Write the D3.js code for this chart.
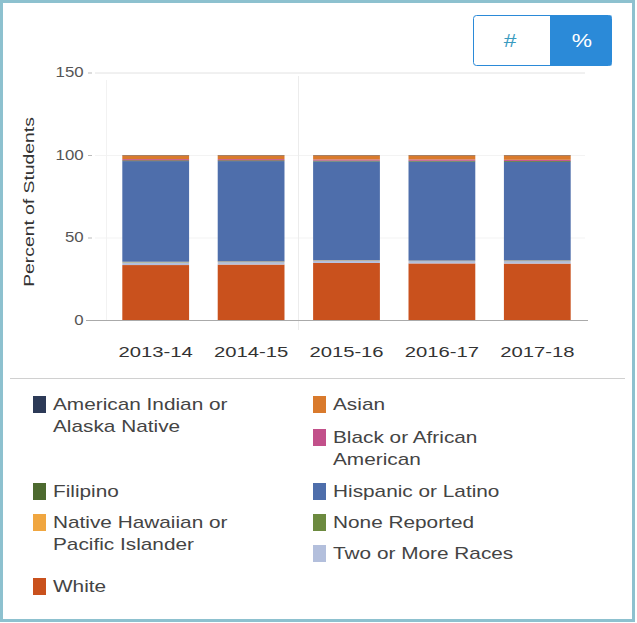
<!DOCTYPE html>
<html>
<head>
<meta charset="utf-8">
<script src="https://cdn.jsdelivr.net/npm/d3@7"></script>
<style>
  body { margin: 0; background: #fff; font-family: "Liberation Sans", Arial, sans-serif; }
</style>
</head>
<body>
<div id="chart"></div>
<script>
// years on the x axis
var years = ["2013-14", "2014-15", "2015-16", "2016-17", "2017-18"];

// groups, top of the stack first (same order as the legend)
var groups = ["American Indian or Alaska Native", "Asian", "Black or African American", "Filipino",
              "Hispanic or Latino", "Native Hawaiian or Pacific Islander", "None Reported",
              "Two or More Races", "White"];
var groupColors = ["#2c3a57", "#d97a2c", "#c2508a", "#4d6a2f", "#4e6eab", "#f0a640", "#6c8a3f", "#b3bfdc", "#c9511d"];

// percent of students per year, one array per group
var amIndian  = [0.2, 0.2, 0.2, 0.2, 0.2];
var asian     = [2.3, 2.3, 2.5, 2.5, 2.7];
var black     = [0.7, 0.7, 0.7, 0.8, 0.7];
var filipino  = [0.5, 0.5, 0.5, 0.5, 0.5];
var hispanic  = [61.0, 60.8, 59.9, 60.0, 59.8];
var hawaiian  = [0.2, 0.2, 0.2, 0.2, 0.2];
var noneRep   = [0.2, 0.2, 0.1, 0.1, 0.2];
var twoOrMore = [1.6, 1.5, 1.3, 1.4, 1.5];
var white     = [33.3, 33.6, 34.6, 34.3, 34.2];

var yTicks = [0, 50, 100, 150];

var seriesValues = [amIndian, asian, black, filipino, hispanic, hawaiian, noneRep, twoOrMore, white];

var width = 637, height = 623;
var font = "'Liberation Sans', Arial, sans-serif";
var svg = d3.select("#chart").append("svg").attr("width", width).attr("height", height);

// outer frame
svg.append("rect").attr("x", 1.5).attr("y", 1.5).attr("width", width - 5).attr("height", height - 4)
    .attr("fill", "#fff").attr("stroke", "#8dc1cf").attr("stroke-width", 3);

// # / % toggle
var btn = svg.append("g");
btn.append("rect").attr("x", 473.5).attr("y", 15.5).attr("width", 138).attr("height", 50).attr("rx", 3)
    .attr("fill", "#fff").attr("stroke", "#2b8ad8");
btn.append("rect").attr("x", 550).attr("y", 15.5).attr("width", 61.5).attr("height", 50)
    .attr("fill", "#2b8ad8");
btn.append("text").attr("transform", "translate(510,47) scale(1.2,1)").attr("text-anchor", "middle")
    .attr("font-size", 19).attr("fill", "#3a9bbf").text("#");
btn.append("text").attr("transform", "translate(582,47) scale(1.2,1)").attr("text-anchor", "middle")
    .attr("font-size", 19).attr("fill", "#fff").text("%");

// build the stack table
var table = years.map(function(yr, i) {
    var row = { year: yr };
    groups.forEach(function(g, j) { row[g] = seriesValues[j][i]; });
    return row;
});
var stacked = d3.stack().keys(groups.slice().reverse())(table);

var x = d3.scaleBand().domain(years).range([108, 585]).paddingInner(0.3).paddingOuter(0.15);
var y = d3.scaleLinear().domain([0, 150]).range([320, 72.5]);
var color = d3.scaleOrdinal().domain(groups).range(groupColors);

// grid
svg.append("g").selectAll("line").data(yTicks.slice(1)).enter().append("line")
    .attr("x1", 95).attr("x2", 585)
    .attr("y1", function(d) { return y(d) + 0.5; }).attr("y2", function(d) { return y(d) + 0.5; })
    .attr("stroke", function(d) { return d === 150 ? "#e2e2e2" : "#f3f3f3"; });
svg.append("line").attr("x1", 298.5).attr("x2", 298.5).attr("y1", 76).attr("y2", 330)
    .attr("stroke", "#ececec");
svg.append("line").attr("x1", 106.5).attr("x2", 106.5).attr("y1", 80).attr("y2", 320)
    .attr("stroke", "#f2f2f2");

// bars
svg.append("g").selectAll("g").data(stacked).enter().append("g")
    .attr("fill", function(d) { return color(d.key); })
    .selectAll("rect").data(function(d) { return d; }).enter().append("rect")
    .attr("x", function(d) { return x(d.data.year); })
    .attr("y", function(d) { return y(d[1]); })
    .attr("width", x.bandwidth())
    .attr("height", function(d) { return y(d[0]) - y(d[1]); });

// y axis
var yAxis = svg.append("g").attr("transform", "translate(92,0)")
    .call(d3.axisLeft(y).tickValues(yTicks).tickSize(4).tickPadding(3));
yAxis.select(".domain").remove();
yAxis.selectAll("line").attr("stroke", "#bbb");
yAxis.selectAll("text").attr("font-size", 14).attr("fill", "#555").attr("font-family", font)
    .attr("transform", "scale(1.2,1)");

// x axis
var xAxis = svg.append("g").attr("transform", "translate(0,320)")
    .call(d3.axisBottom(x).tickSize(0).tickPadding(26));
xAxis.select(".domain").attr("d", "M86,0.5H588").attr("stroke", "#aaa");
xAxis.selectAll("text").attr("font-size", 15).attr("fill", "#333").attr("font-family", font)
    .attr("transform", "scale(1.35,1)");

svg.append("text").attr("transform", "translate(34,202) rotate(-90) scale(1.38,1)").attr("text-anchor", "middle")
    .attr("font-size", 14).attr("fill", "#333").text("Percent of Students");

// separator
svg.append("line").attr("x1", 10).attr("x2", 625).attr("y1", 378.5).attr("y2", 378.5)
    .attr("stroke", "#d0d0d0");

// legend: left column / right column slots
var legendLines = [["American Indian or", "Alaska Native"], ["Asian"], ["Black or African", "American"],
                   ["Filipino"], ["Hispanic or Latino"], ["Native Hawaiian or", "Pacific Islander"],
                   ["None Reported"], ["Two or More Races"], ["White"]];
var legendCol = [0, 1, 1, 0, 1, 0, 1, 1, 0];
var legendTop = [396, 396, 429, 483, 483, 514, 514, 545, 578];

var leg = svg.append("g").selectAll("g").data(groups).enter().append("g")
    .attr("transform", function(d, i) { return "translate(" + (legendCol[i] ? 313 : 33) + "," + legendTop[i] + ")"; });
leg.append("rect").attr("width", 13).attr("height", 17)
    .attr("fill", function(d) { return color(d); });
leg.each(function(d, i) {
    d3.select(this).selectAll("text").data(legendLines[i]).enter().append("text")
        .attr("transform", function(t, k) { return "translate(20," + (14 + k * 22) + ") scale(1.3,1)"; })
        .attr("font-size", 16).attr("fill", "#444").text(function(t) { return t; });
});
</script>
</body>
</html>
